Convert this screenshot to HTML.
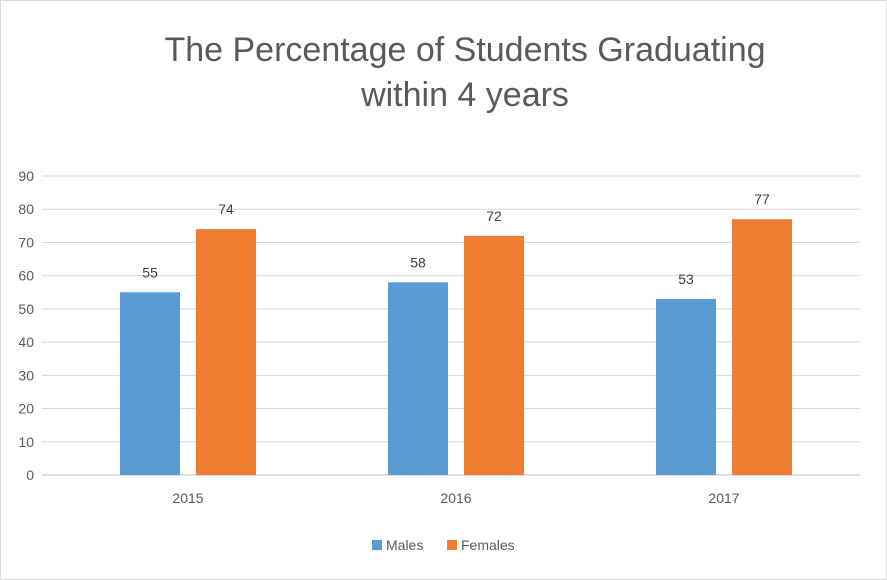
<!DOCTYPE html>
<html><head><meta charset="utf-8"><style>
body{margin:0;background:#fff;}
svg{display:block;font-family:"Liberation Sans",sans-serif;}
</style></head><body>
<svg id="chart" width="887" height="580">
<rect x="0.5" y="0.5" width="886" height="579" fill="#fff" stroke="#d9d9d9"/>
<text x="465" y="61" text-anchor="middle" font-size="34" fill="#595959">The Percentage of Students Graduating</text>
<text x="465" y="106" text-anchor="middle" font-size="34" fill="#595959">within 4 years</text>
<g id="grid"></g><g id="bars"></g><g id="labels"></g>
<g>
<rect x="372" y="540" width="10" height="10" fill="#5b9bd5"/>
<text x="386" y="550" font-size="14" fill="#595959">Males</text>
<rect x="447" y="540" width="10" height="10" fill="#ed7d31"/>
<text x="461" y="550" font-size="14" fill="#595959">Females</text>
</g>
</svg>
<script>
const categories=["2015","2016","2017"];
const males=[55,58,53];
const females=[74,72,77];
const yTicks=[0,10,20,30,40,50,60,70,80,90];
const NS="http://www.w3.org/2000/svg";
const x0=54,x1=858,yBase=475,yTop=176,yMax=90;
function y(v){return yBase-(v/yMax)*(yBase-yTop);}
function xc(i){return x0+(i+0.5)*(x1-x0)/categories.length;}
function mk(tag,attrs,parent,text){const e=document.createElementNS(NS,tag);for(const k in attrs)e.setAttribute(k,attrs[k]);if(text!==undefined)e.textContent=text;document.getElementById(parent).appendChild(e);return e;}
yTicks.forEach(t=>{
  const l=mk('line',{x1:42,x2:860,y1:y(t),y2:y(t),stroke:t===0?'#bfbfbf':'#d9d9d9','stroke-width':1},'grid');
  
  
  const tx=mk('text',{x:34,y:y(t)+5,'text-anchor':'end','font-size':14,fill:'#595959'},'grid',t);
  
  
});
categories.forEach((c,i)=>{
  const cx=xc(i);
  const bm=mk('rect',{x:cx-68,y:y(males[i]),width:60,height:yBase-y(males[i]),fill:'#5b9bd5'},'bars');
  
  
  const bf=mk('rect',{x:cx+8,y:y(females[i]),width:60,height:yBase-y(females[i]),fill:'#ed7d31'},'bars');
  
  
  const lm=mk('text',{x:cx-38,y:y(males[i])-15,'text-anchor':'middle','font-size':14,fill:'#404040'},'labels',males[i]);
  
  
  const lf=mk('text',{x:cx+38,y:y(females[i])-15,'text-anchor':'middle','font-size':14,fill:'#404040'},'labels',females[i]);
  
  
  const lc=mk('text',{x:cx,y:503,'text-anchor':'middle','font-size':14,fill:'#595959'},'labels',c);
  
  
});
</script>
</body></html>
